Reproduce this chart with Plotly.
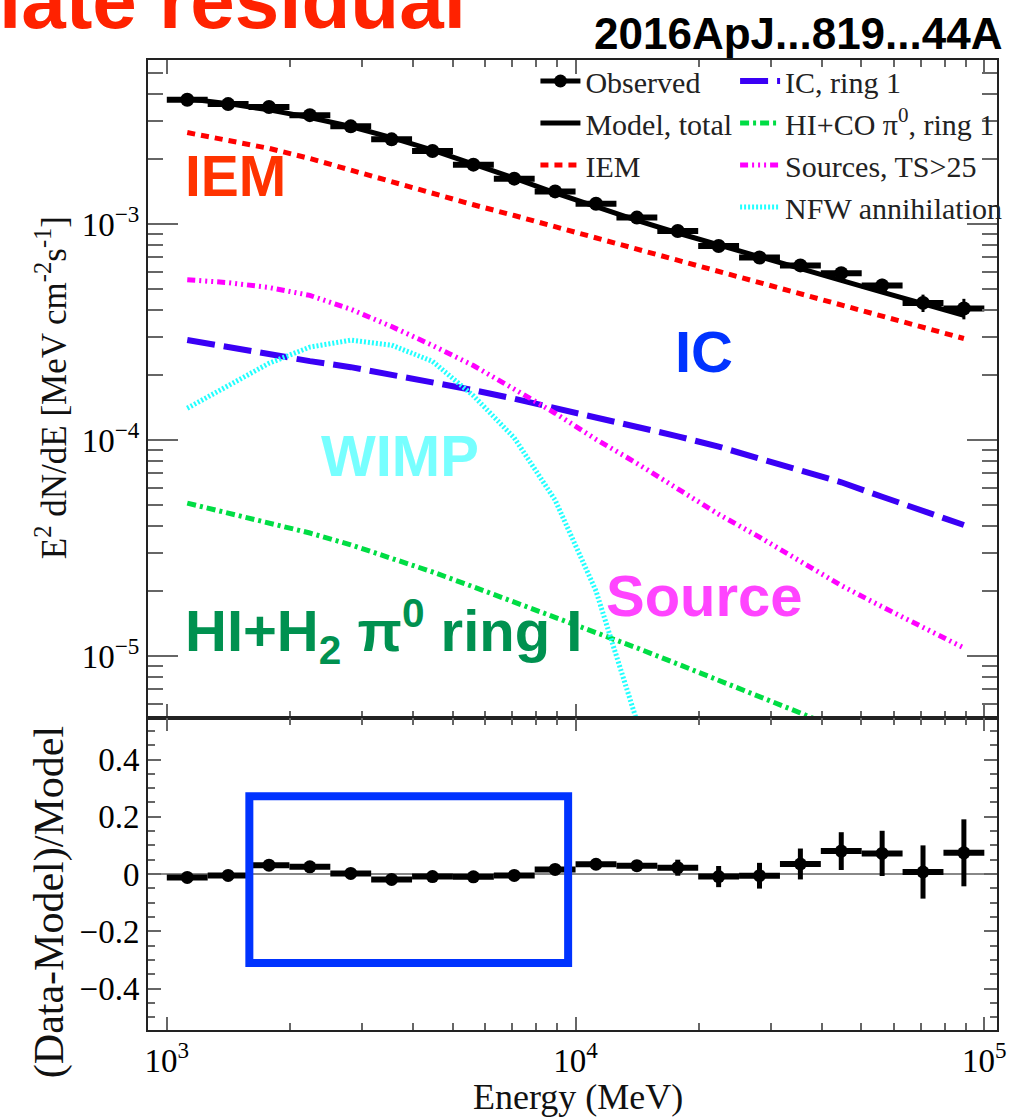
import plotly.graph_objects as go

# ---------------------------------------------------------------------------
# Energy binning (MeV): 20 logarithmic bins from 1 GeV to 100 GeV
bin_edges = [1000, 1259, 1585, 1995, 2512, 3162, 3981, 5012, 6310, 7943,
             10000, 12589, 15849, 19953, 25119, 31623, 39811, 50119, 63096,
             79433, 100000]

# E^2 dN/dE  [MeV cm^-2 s^-1]
observed = [3.756e-3, 3.588e-3, 3.478e-3, 3.190e-3, 2.831e-3, 2.464e-3,
            2.178e-3, 1.882e-3, 1.621e-3, 1.415e-3, 1.240e-3, 1.070e-3,
            9.28e-4, 7.91e-4, 6.99e-4, 6.43e-4, 5.92e-4, 5.19e-4, 4.31e-4,
            4.06e-4]
model_total = [3.802e-3, 3.606e-3, 3.373e-3, 3.112e-3, 2.825e-3, 2.512e-3,
               2.198e-3, 1.901e-3, 1.629e-3, 1.393e-3, 1.199e-3, 1.040e-3,
               9.08e-4, 7.98e-4, 7.03e-4, 6.21e-4, 5.48e-4, 4.84e-4, 4.28e-4,
               3.78e-4]
iem = [2.649e-3, 2.443e-3, 2.239e-3, 2.009e-3, 1.774e-3, 1.567e-3, 1.380e-3,
       1.227e-3, 1.094e-3, 9.72e-4, 8.63e-4, 7.66e-4, 6.81e-4, 6.04e-4,
       5.36e-4, 4.75e-4, 4.23e-4, 3.75e-4, 3.33e-4, 2.95e-4]
ic_ring1 = [2.904e-4, 2.685e-4, 2.489e-4, 2.317e-4, 2.173e-4, 2.009e-4,
            1.858e-4, 1.702e-4, 1.552e-4, 1.406e-4, 1.271e-4, 1.148e-4,
            1.040e-4, 9.31e-5, 8.22e-5, 7.28e-5, 6.37e-5, 5.46e-5, 4.69e-5,
            4.04e-5]
hico_pi0_ring1 = [5.10e-5, 4.59e-5, 4.13e-5, 3.71e-5, 3.27e-5, 2.84e-5,
                  2.45e-5, 2.09e-5, 1.78e-5, 1.50e-5, 1.28e-5, 1.09e-5,
                  9.18e-6, 7.74e-6, 6.53e-6, 5.45e-6, 4.54e-6, 3.79e-6,
                  3.16e-6, 2.64e-6]
sources_ts25 = [5.52e-4, 5.35e-4, 5.08e-4, 4.67e-4, 4.03e-4, 3.35e-4,
                2.74e-4, 2.21e-4, 1.72e-4, 1.33e-4, 1.007e-4, 7.80e-5,
                5.94e-5, 4.53e-5, 3.55e-5, 2.76e-5, 2.12e-5, 1.69e-5,
                1.35e-5, 1.09e-5]
# NFW annihilation spectrum (first 12 bins; falls off steeply afterwards)
nfw_annihilation = [1.403e-4, 1.782e-4, 2.265e-4, 2.692e-4, 2.897e-4,
                    2.748e-4, 2.312e-4, 1.603e-4, 1.023e-4, 5.27e-5, 2.0e-5,
                    5.0e-6]

# Fractional residuals (Data-Model)/Model and their uncertainties
residual = [-0.012, -0.005, 0.031, 0.025, 0.002, -0.019, -0.009, -0.010,
            -0.005, 0.016, 0.034, 0.029, 0.022, -0.009, -0.006, 0.035, 0.080,
            0.072, 0.007, 0.074]
residual_err = [0.004, 0.004, 0.005, 0.005, 0.005, 0.006, 0.006, 0.007,
                0.008, 0.009, 0.012, 0.018, 0.028, 0.037, 0.045, 0.054,
                0.066, 0.079, 0.093, 0.117]

# tick labels
x_tickvals = [1e3, 1e4, 1e5]
x_ticktext = ["10<sup>3</sup>", "10<sup>4</sup>", "10<sup>5</sup>"]
y_tickvals = [1e-5, 1e-4, 1e-3]
y_ticktext = ["10<sup>\u22125</sup>", "10<sup>\u22124</sup>", "10<sup>\u22123</sup>"]
r_tickvals = [-0.4, -0.2, 0, 0.2, 0.4]
r_ticktext = ["\u22120.4", "\u22120.2", "0", "0.2", "0.4"]

# ---------------------------------------------------------------------------
lo = bin_edges[:-1]
hi = bin_edges[1:]
centers = [(a * b) ** 0.5 for a, b in zip(lo, hi)]
err_plus = [h - c for h, c in zip(hi, centers)]
err_minus = [c - l for c, l in zip(centers, lo)]
obs_sigma = [r * m for r, m in zip(residual_err, model_total)]

SERIF = "Liberation Serif"
SANS = "Liberation Sans"

W, H = 1015, 1117
ML, MR, MT, MB = 148, 8, 60, 87
PW, PH = W - ML - MR, H - MT - MB
split = 312 / PH  # bottom (ratio) panel fraction


def px(x):
    return (x - ML) / PW


def py(y):
    return (H - MB - y) / PH


fig = go.Figure()

line_traces = [
    ("Model, total", model_total, dict(color="black", width=5), "legend", 2),
    ("IEM", iem, dict(color="#ff0000", width=5, dash="8px,6px"), "legend", 3),
    ("IC, ring 1", ic_ring1, dict(color="#3a00f5", width=6, dash="28px,9px"), "legend2", 4),
    ("HI+CO \u03c0<sup>0</sup>, ring 1", hico_pi0_ring1,
     dict(color="#00dd44", width=5, dash="9px,4px,3px,4px"), "legend2", 5),
    ("Sources, TS>25", sources_ts25,
     dict(color="#ff00ff", width=5, dash="8px,4px,2px,4px,2px,4px,2px,4px"), "legend2", 6),
    ("NFW annihilation", nfw_annihilation,
     dict(color="#22ffff", width=5, dash="2px,2px"), "legend2", 7),
]
for name, vals, line, leg, rank in line_traces:
    fig.add_trace(go.Scatter(
        x=centers[:len(vals)], y=vals, mode="lines", name=name, line=line,
        xaxis="x", yaxis="y", legend=leg, legendrank=rank))

# observed points with bin-width bars
fig.add_trace(go.Scatter(
    x=centers, y=observed, mode="markers", showlegend=False,
    marker=dict(color="black", size=14),
    error_x=dict(type="data", array=err_plus, arrayminus=err_minus,
                 thickness=6, width=0, color="black"),
    error_y=dict(type="data", array=obs_sigma, thickness=3, width=0,
                 color="black"),
    xaxis="x", yaxis="y"))
# legend entry for the observed points
fig.add_trace(go.Scatter(
    x=[None], y=[None], mode="lines+markers", name="Observed",
    line=dict(color="black", width=5), marker=dict(color="black", size=13),
    xaxis="x", yaxis="y", legend="legend", legendrank=1))

# residual panel
fig.add_trace(go.Scatter(
    x=centers, y=residual, mode="markers", showlegend=False,
    marker=dict(color="black", size=13),
    error_x=dict(type="data", array=err_plus, arrayminus=err_minus,
                 thickness=6, width=0, color="black"),
    error_y=dict(type="data", array=residual_err, thickness=5, width=0,
                 color="black"),
    xaxis="x2", yaxis="y2"))

# ---------------------------------------------------------------------------
frame = dict(showline=True, linecolor="#222", linewidth=2, mirror="allticks",
             ticks="inside", tickcolor="#666", tickwidth=2, showgrid=False,
             zeroline=False)
x_minor = [m * d for d in (1e3, 1e4) for m in range(2, 10)]
y_minor = [m * d for d in (1e-6, 1e-5, 1e-4, 1e-3) for m in range(2, 10)]
y_minor = [v for v in y_minor if 5e-6 < v < 5.7e-3]
tick_font = dict(family=SERIF, size=33, color="black")
x_range = [2.954, 5.031]
legend_font = dict(family=SERIF, size=30, color="#222")

fig.update_layout(
    width=W, height=H,
    margin=dict(l=ML, r=MR, t=MT, b=MB),
    paper_bgcolor="white", plot_bgcolor="white",
    font=dict(family=SERIF),
    xaxis=dict(frame, type="log", range=x_range, anchor="y",
               tickvals=x_tickvals, showticklabels=False, ticklen=14,
               minor=dict(tickvals=x_minor, ticks="inside", ticklen=7,
                          tickcolor="#666", tickwidth=2)),
    yaxis=dict(frame, type="log", range=[-5.287, -2.241], anchor="x",
               domain=[split, 1], tickvals=y_tickvals, ticktext=y_ticktext,
               ticklen=30, tickfont=tick_font,
               minor=dict(tickvals=y_minor, ticks="inside", ticklen=15,
                          tickcolor="#666", tickwidth=2)),
    xaxis2=dict(frame, type="log", range=x_range, anchor="y2",
                tickvals=x_tickvals, ticktext=x_ticktext, ticklen=13,
                tickfont=tick_font,
                minor=dict(tickvals=x_minor, ticks="inside", ticklen=7,
                           tickcolor="#666", tickwidth=2)),
    yaxis2=dict(frame, range=[-0.545, 0.545], anchor="x2",
                domain=[0, split], tickvals=r_tickvals, ticktext=r_ticktext,
                ticklen=13, tickfont=tick_font,
                zeroline=True, zerolinecolor="#888", zerolinewidth=2,
                minor=dict(dtick=0.05, tick0=0, ticks="inside", ticklen=7,
                           tickcolor="#666", tickwidth=2)),
    legend=dict(x=px(540), y=py(55), xanchor="left", yanchor="top",
                bgcolor="rgba(0,0,0,0)", itemwidth=40, tracegroupgap=0,
                font=legend_font),
    legend2=dict(x=px(742), y=py(55), xanchor="left", yanchor="top",
                 bgcolor="rgba(0,0,0,0)", itemwidth=40, tracegroupgap=0,
                 font=legend_font),
    showlegend=True,
)

# highlighted energy window in the residual panel
fig.add_shape(type="rect", xref="x2", yref="y2", x0=1592, x1=9590,
              y0=-0.311, y1=0.2717, line=dict(color="#0033ff", width=8),
              fillcolor="rgba(0,0,0,0)")


def label(text, x, y, size, color, family=SANS, bold=True, angle=0,
          xanchor="center", yanchor="middle"):
    fig.add_annotation(
        text=f"<b>{text}</b>" if bold else text, x=px(x), y=py(y),
        xref="paper", yref="paper", showarrow=False, textangle=angle,
        xanchor=xanchor, yanchor=yanchor,
        font=dict(family=family, size=size, color=color))


# axis titles
label("E<sup>2</sup> dN/dE [MeV cm<sup>-2</sup>s<sup>-1</sup>]", 50, 388, 35,
      "#111", family=SERIF, bold=False, angle=-90)
label("(Data-Model)/Model", 48, 902, 42, "#111", family=SERIF, bold=False,
      angle=-90)
label("Energy (MeV)", 583, 1097, 36, "#111", family=SERIF, bold=False)

# component tags
label("IEM", 237, 176, 57, "#ff3300")
label("IC", 711, 351, 58, "#0033ff")
label("WIMP", 403, 455, 58, "#77ffff")
label("Source", 711, 595, 58, "#ff44ff")
label("HI+H<sub>2</sub> \u03c0<sup>0</sup> ring I", 386, 631, 58, "#009150")

# header texts
label("late residual", 472, 0, 80, "#ff2200", xanchor="right")
label("2016ApJ...819...44A", 1014, 33, 44, "black", xanchor="right")

fig.write_html("out.html")
